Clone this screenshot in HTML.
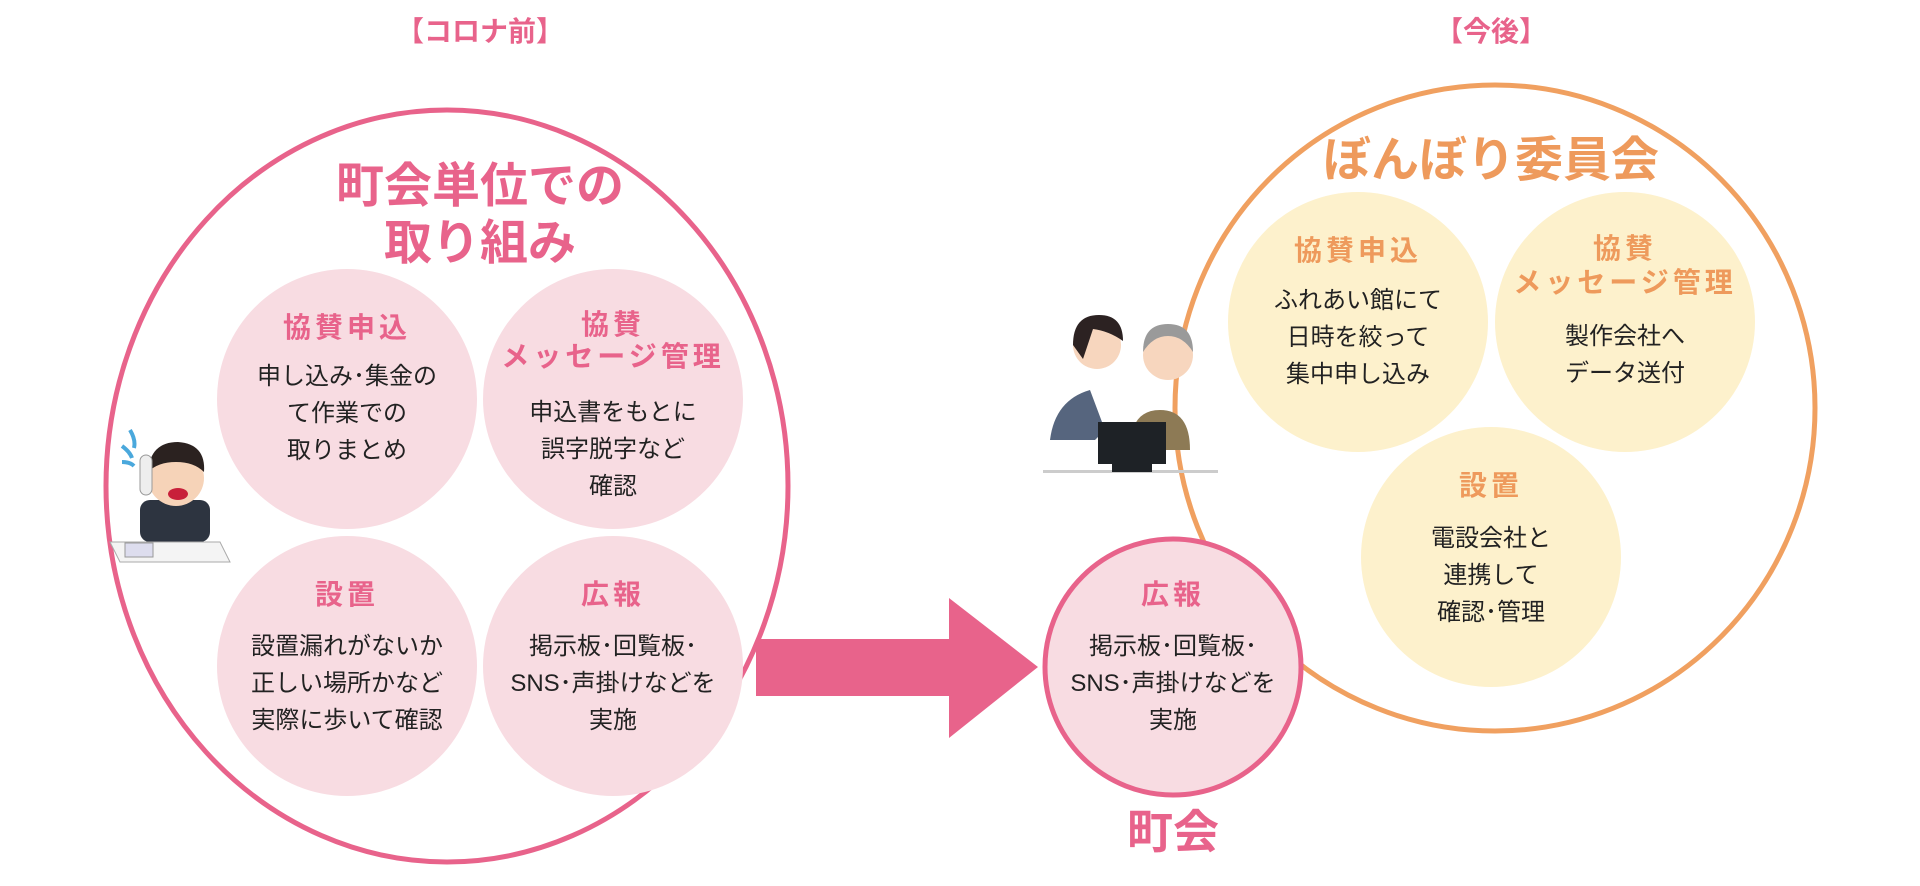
<!DOCTYPE html>
<html><head><meta charset="utf-8">
<style>
html,body{margin:0;padding:0;background:#fff;}
body{width:1920px;height:886px;position:relative;overflow:hidden;font-family:"Liberation Sans","Noto Sans CJK JP",sans-serif;}
.t{position:absolute;transform:translateX(-50%);white-space:nowrap;text-align:center;}
.h{font-weight:bold;letter-spacing:4px;font-size:28px;line-height:33px;}
.b{font-size:24px;line-height:37px;color:#222;}
.pk{color:#e8638b;}
.or{color:#ee9a5c;}
</style></head><body>
<svg width="1920" height="886" style="position:absolute;left:0;top:0">
  <ellipse cx="1495" cy="408" rx="320" ry="323" fill="none" stroke="#f0a060" stroke-width="5"/>
  <ellipse cx="447" cy="486" rx="341" ry="376" fill="none" stroke="#e8638b" stroke-width="5"/>
  <circle cx="347" cy="399" r="130" fill="#f8dce2"/>
  <circle cx="613" cy="399" r="130" fill="#f8dce2"/>
  <circle cx="347" cy="666" r="130" fill="#f8dce2"/>
  <circle cx="613" cy="666" r="130" fill="#f8dce2"/>
  <circle cx="1358" cy="322" r="130" fill="#fdf1cc"/>
  <circle cx="1625" cy="322" r="130" fill="#fdf1cc"/>
  <circle cx="1491" cy="557" r="130" fill="#fdf1cc"/>
  <circle cx="1173" cy="667" r="128" fill="#f8dce2" stroke="#e8638b" stroke-width="5"/>
  <polygon points="756,639 949,639 949,598 1038,667 949,738 949,696 756,696" fill="#e8638b"/>
  <g>
    <path d="M130 430 q6 10 4 18 M122 446 q8 6 10 12 M122 462 q8 0 12 4" stroke="#4aa8dc" stroke-width="4" fill="none"/>
    <rect x="140" y="500" width="70" height="42" rx="10" fill="#2d3440"/>
    <circle cx="176" cy="478" r="28" fill="#f6d3b8"/>
    <path d="M148 472 q2 -30 30 -30 q28 2 26 30 q-10 -10 -28 -10 q-18 0 -28 10z" fill="#2b2220"/>
    <ellipse cx="178" cy="494" rx="10" ry="6" fill="#c8203a"/>
    <rect x="140" y="455" width="12" height="40" rx="6" fill="#eee" stroke="#999"/>
    <path d="M110 542 l110 0 l10 20 l-110 0z" fill="#f4f4f4" stroke="#aaa"/>
    <rect x="125" y="543" width="28" height="14" fill="#dde" stroke="#999"/>
  </g>
  <g>
    <rect x="1043" y="470" width="175" height="3" fill="#ccc"/>
    <path d="M1050 440 q5 -40 40 -50 l15 40 l-10 10 z" fill="#56657e"/>
    <circle cx="1097" cy="345" r="24" fill="#f7d6be"/>
    <path d="M1073 345 q0 -30 26 -30 q24 0 24 26 q-14 -10 -30 -12 l-10 30z" fill="#2c2222"/>
    <path d="M1130 450 q0 -40 30 -40 q30 0 30 40z" fill="#8d7a55"/>
    <circle cx="1168" cy="355" r="25" fill="#f7d6be"/>
    <path d="M1143 352 q0 -28 25 -28 q25 0 25 28 q-10 -16 -25 -16 q-15 0 -25 16z" fill="#9a9a9a"/>
    <rect x="1098" y="422" width="68" height="42" fill="#1e2226"/>
    <rect x="1112" y="464" width="40" height="8" fill="#1e2226"/>
  </g>
</svg>

<div class="t pk" style="left:480px;top:10px;font-size:28px;font-weight:bold">【コロナ前】</div>
<div class="t pk" style="left:1491px;top:10px;font-size:28px;font-weight:bold">【今後】</div>

<div class="t pk" style="left:480px;top:158px;font-size:48px;font-weight:bold;line-height:57px">町会単位での<br>取り組み</div>

<div class="t h pk" style="left:347px;top:311px">協賛申込</div>
<div class="t b" style="left:347px;top:358px">申し込み･集金の<br>て作業での<br>取りまとめ</div>

<div class="t h pk" style="left:613px;top:309px;line-height:32px">協賛<br>メッセージ管理</div>
<div class="t b" style="left:613px;top:394px">申込書をもとに<br>誤字脱字など<br>確認</div>

<div class="t h pk" style="left:347px;top:578px">設置</div>
<div class="t b" style="left:347px;top:628px">設置漏れがないか<br>正しい場所かなど<br>実際に歩いて確認</div>

<div class="t h pk" style="left:613px;top:578px">広報</div>
<div class="t b" style="left:613px;top:628px">掲示板･回覧板･<br>SNS･声掛けなどを<br>実施</div>

<div class="t h pk" style="left:1173px;top:578px">広報</div>
<div class="t b" style="left:1173px;top:628px">掲示板･回覧板･<br>SNS･声掛けなどを<br>実施</div>
<div class="t pk" style="left:1173px;top:804px;font-size:46px;font-weight:bold;line-height:56px">町会</div>

<div class="t or" style="left:1491px;top:132px;font-size:48px;font-weight:bold;line-height:57px">ぼんぼり委員会</div>

<div class="t h or" style="left:1358px;top:234px">協賛申込</div>
<div class="t b" style="left:1358px;top:282px">ふれあい館にて<br>日時を絞って<br>集中申し込み</div>

<div class="t h or" style="left:1625px;top:232px;line-height:34px">協賛<br>メッセージ管理</div>
<div class="t b" style="left:1625px;top:318px">製作会社へ<br>データ送付</div>

<div class="t h or" style="left:1491px;top:469px">設置</div>
<div class="t b" style="left:1491px;top:520px">電設会社と<br>連携して<br>確認･管理</div>
</body></html>
